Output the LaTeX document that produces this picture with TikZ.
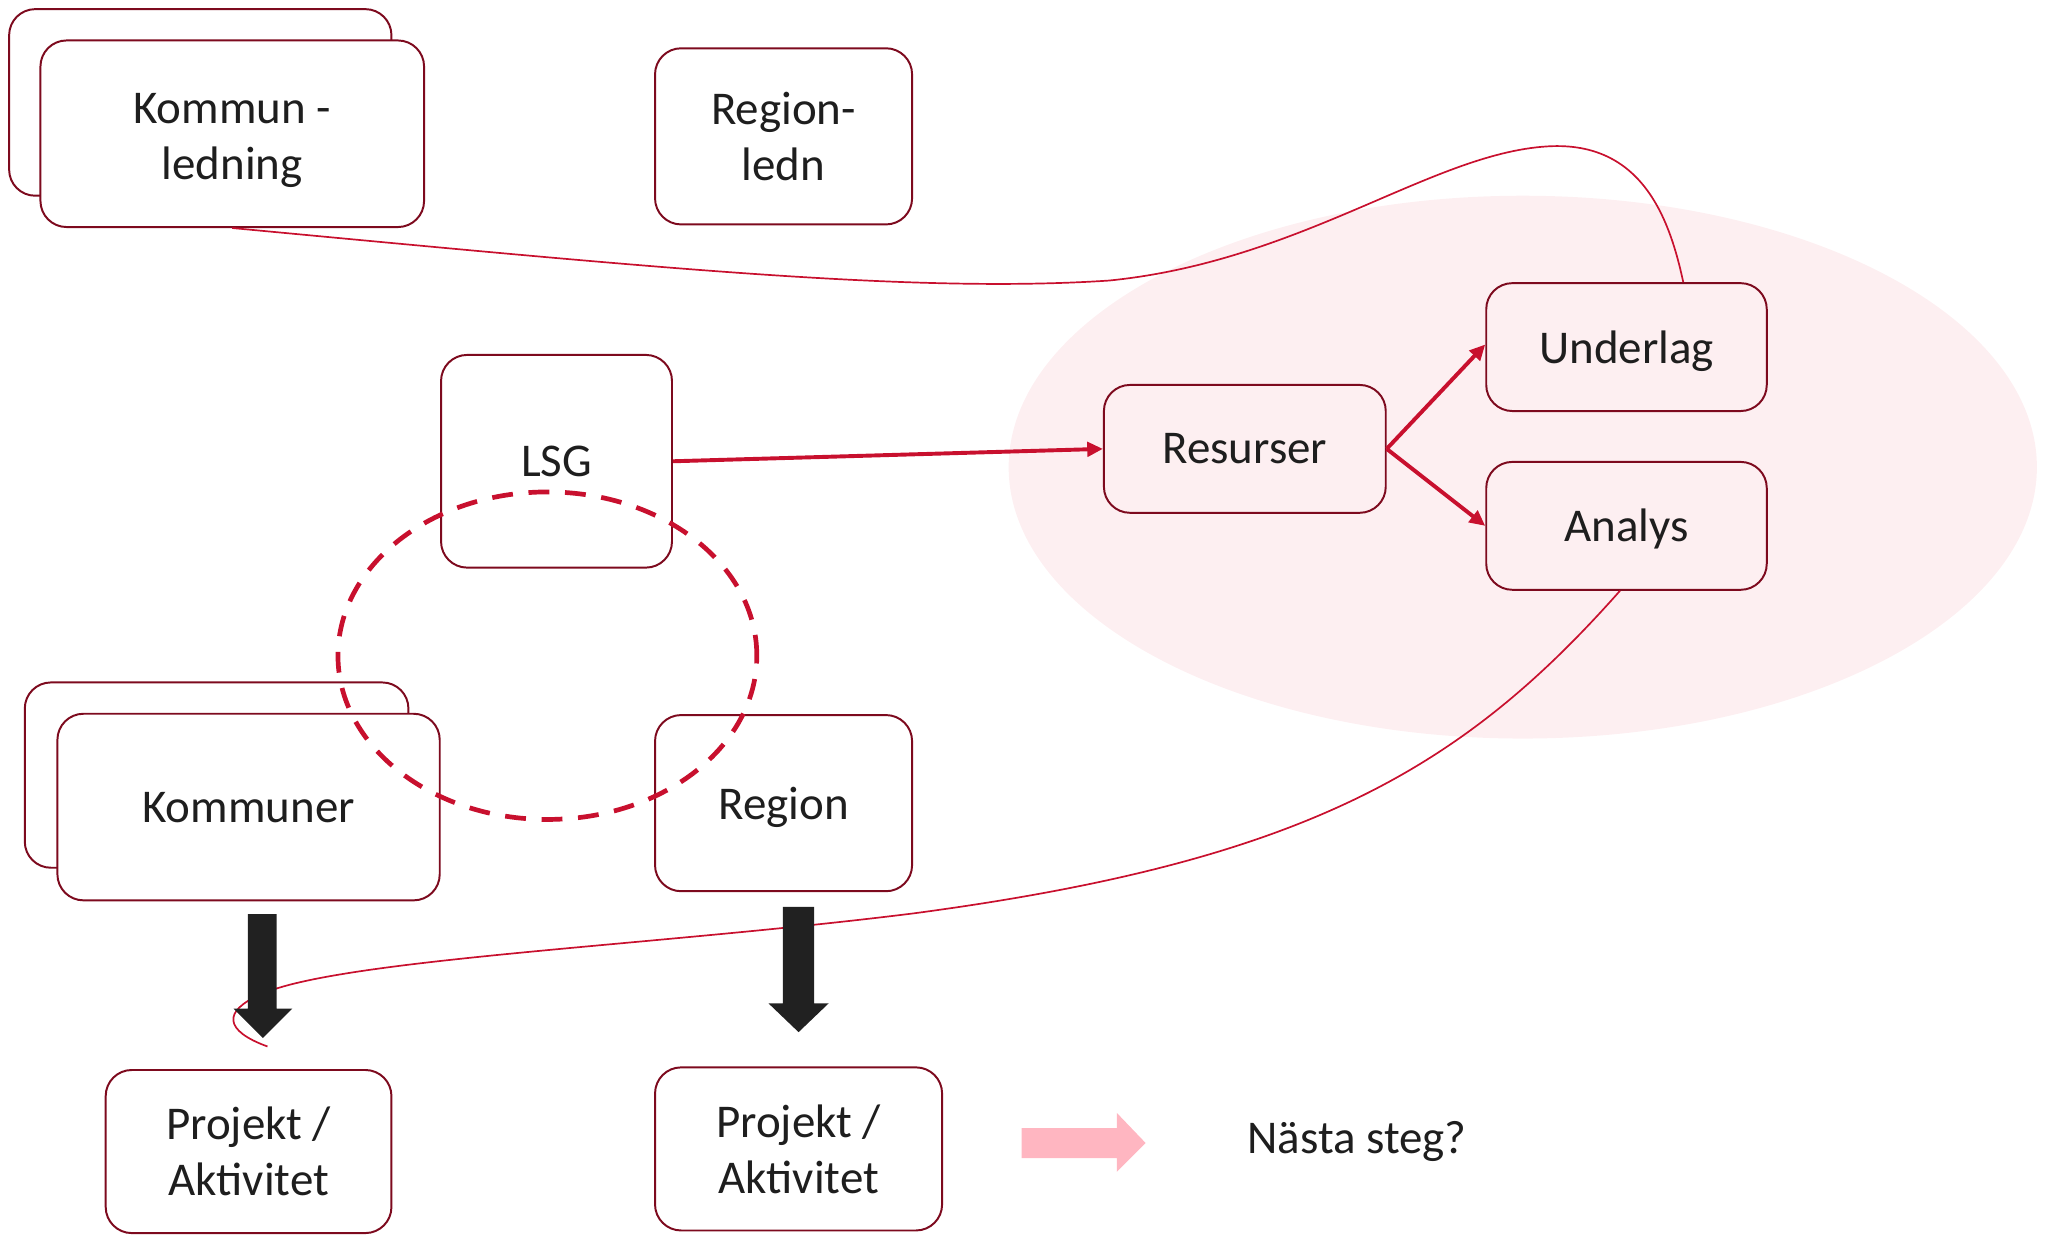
\documentclass[tikz,border=0pt]{standalone}
\usepackage{fontspec}
\setmainfont{Carlito}
\usetikzlibrary{arrows.meta,shapes.geometric}
\definecolor{boxline}{RGB}{125,10,30}
\definecolor{txt}{RGB}{30,30,30}
\definecolor{zonefill}{RGB}{253,239,241}
\definecolor{accent}{RGB}{200,16,46}
\definecolor{pinkarrow}{RGB}{255,182,193}
\definecolor{blockblack}{RGB}{33,33,33}
\tikzset{
  box/.style={draw=boxline, line width=1.5pt, rounded corners=20pt, fill=white,
    text=txt, align=center, inner sep=0pt, font=\fontsize{36}{43}\selectfont},
  zonebox/.style={box, fill=zonefill},
  textlow/.style={text depth=#1},
  redarrow/.style={draw=accent, line width=3pt, -{Triangle[length=12pt,width=11pt]}},
  thinred/.style={draw=accent, line width=1.3pt},
  blockarrow/.style={fill=blockblack},
  loopring/.style={draw=accent, line width=3.6pt, dash pattern=on 16pt off 12pt, ellipse, inner sep=0pt},
  plain/.style={text=txt, inner sep=0pt, font=\fontsize{36}{43}\selectfont},
}
\begin{document}
\begin{tikzpicture}[x=1pt,y=-1pt]
\useasboundingbox (0,0) rectangle (1568,950);
% pink zone
\node[ellipse, fill=zonefill, minimum width=788pt, minimum height=416pt, inner sep=0pt] (zone) at (1167,358) {};
% boxes
\node[box, minimum width=293pt, minimum height=143pt] (klback) at (153.5,78.5) {};
\node[box, minimum width=294pt, minimum height=143pt] (kl) at (178,102.5) {\rule{0pt}{33pt}Kommun -\\ledning};
\node[box, minimum width=197pt, minimum height=135pt] (rl) at (600.5,104.5) {Region-\\ledn};
\node[box, textlow=-2pt, minimum width=177pt, minimum height=163pt] (lsg) at (426.5,353.5) {LSG};
\node[zonebox, textlow=-4pt, minimum width=216pt, minimum height=98pt] (res) at (954,344) {Resurser};
\node[zonebox, textlow=-0.5pt, minimum width=215pt, minimum height=98pt] (und) at (1246.5,266) {Underlag};
\node[zonebox, textlow=1.5pt, minimum width=215pt, minimum height=98pt] (ana) at (1246.5,403) {Analys};
\node[box, minimum width=294pt, minimum height=142pt] (komback) at (166,594) {};
\node[box, textlow=-4pt, minimum width=293pt, minimum height=143pt] (kom) at (190.5,618.5) {Kommuner};
\node[box, textlow=-0.5pt, minimum width=197pt, minimum height=135pt] (reg) at (600.5,615.5) {Region};
\node[box, minimum width=219pt, minimum height=125pt] (proj1) at (190.5,882.5) {Projekt /\\Aktivitet};
\node[box, minimum width=220pt, minimum height=125pt] (proj2) at (612,880.5) {Projekt /\\Aktivitet};
\node[plain] (next) at (1040,875) {Nästa steg?};
% thin red curves
\draw[thinred] (kl.south) .. controls (500,205) and (700,225) .. (850,215)
  .. controls (1000,200) and (1100,115) .. (1190,112)
  .. controls (1260,110) and (1280,170) .. ([xshift=43.5pt]und.north);
\coordinate (hook) at (205,802);
\draw[thinred] ([xshift=-5pt]ana.south) .. controls (1120,590) and (1000,660) .. (700,700)
  .. controls (500,725) and (260,735) .. (200,762)
  .. controls (170,775) and (172,790) .. (hook);
% black block arrows
\fill[blockarrow] (190,700.5) -- (212,700.5) -- (212,773) -- (224,773) -- (201.5,795.5) -- (179,773) -- (190,773) -- cycle;
\fill[blockarrow] (600,695) -- (624,695) -- (624,769) -- (635,769) -- (612,791) -- (589,769) -- (600,769) -- cycle;
% pink block arrow
\fill[pinkarrow] (783,864.5) -- (856,864.5) -- (856,853) -- (878,876) -- (856,898) -- (856,887.5) -- (783,887.5) -- cycle;
% dashed ring
\node[loopring, minimum width=321pt, minimum height=251pt] (ring) at (419.5,502.5) {};
% red arrows
\draw[redarrow] (lsg.east) -- (res.west);
\draw[redarrow] (res.east) -- ([yshift=2pt]und.west);
\draw[redarrow] (res.east) -- (ana.west);
\end{tikzpicture}
\end{document}
